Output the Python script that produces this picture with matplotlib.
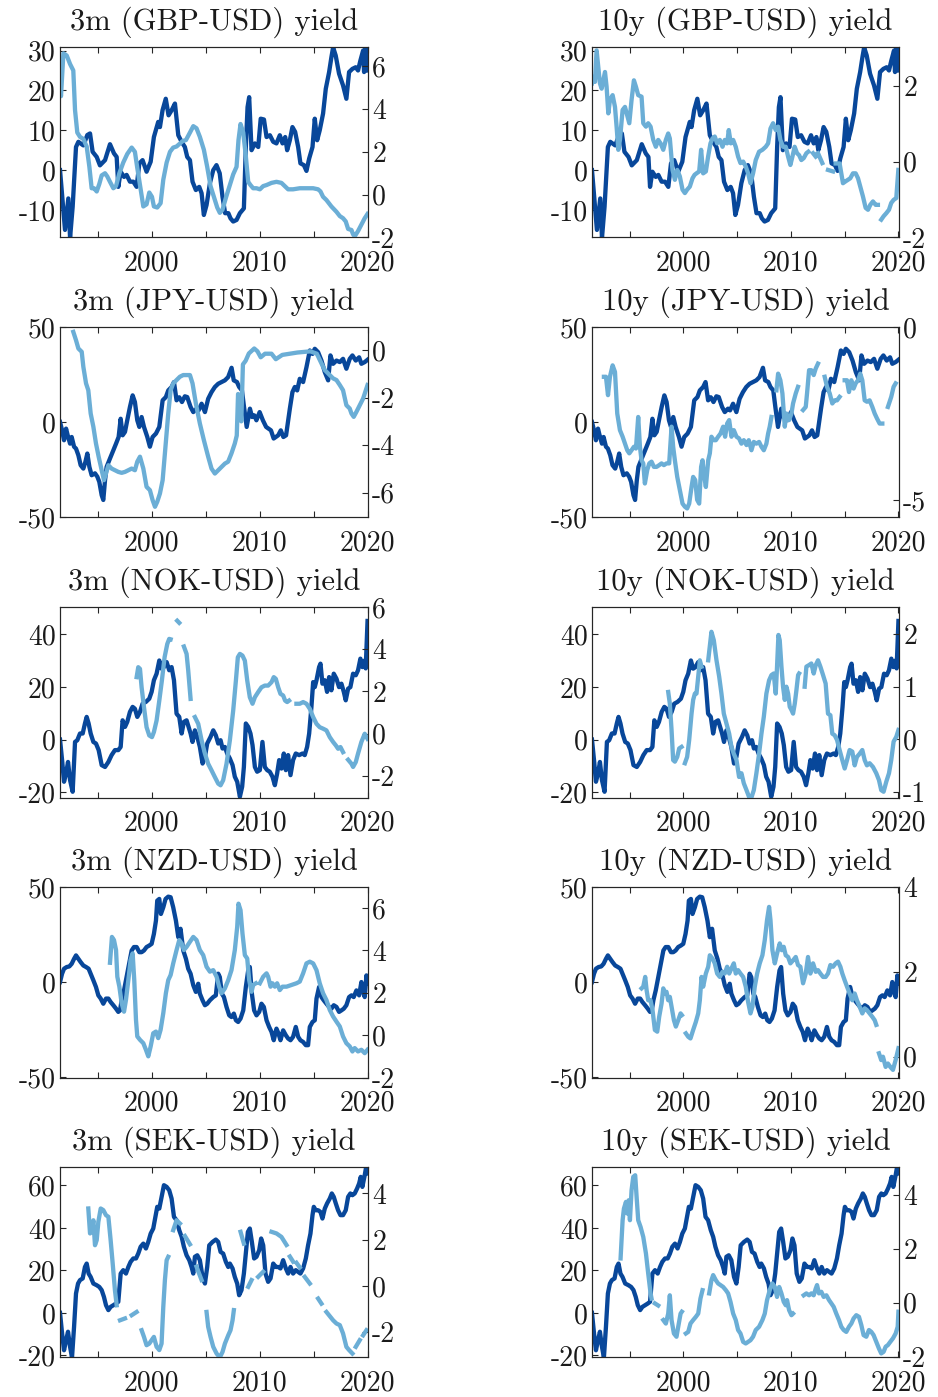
import numpy as np
import matplotlib
matplotlib.use('Agg')
import matplotlib.pyplot as plt

nan = np.nan
GAP = (nan, nan)

# ---------------- dark series (left axis), shared within each row ----------------
GBP_DARK = [(1991.5,0),(1991.96,-15),(1992.27,-7.1),(1992.43,-17),(1992.67,-9.2),(1992.98,5.8),(1993.2,7.1),(1993.66,6.2),
 (1994.03,8.8),(1994.28,9.2),(1994.52,4.6),(1994.9,3.3),(1995.2,1.2),(1995.67,2.5),(1996.13,6.5),(1996.5,4.2),(1996.75,3.3),
 (1996.9,-4.2),(1997.12,-0.4),(1997.43,-1.7),(1997.67,-1.2),(1997.98,-2.9),(1998.29,-2.9),(1998.6,-4.2),(1998.85,1.7),
 (1999.15,2.5),(1999.52,-0.4),(1999.9,2.1),(2000.2,8.3),(2000.6,12.1),(2000.76,10.8),(2001.0,15),(2001.3,17.9),(2001.56,13.75),
 (2001.84,15),(2002.15,16.7),(2002.46,8.75),(2002.77,7.1),(2003.07,5.8),(2003.29,3.3),(2003.54,2.5),(2003.78,-2.9),(2004.09,-5),
 (2004.4,-4.2),(2004.62,-5.8),(2004.83,-11.25),(2005.08,-8.75),(2005.39,-3.3),(2005.7,0),(2006.0,1.25),(2006.3,-0.8),
 (2006.56,-6.7),(2006.8,-10.8),(2007.1,-10.8),(2007.3,-12.1),(2007.55,-12.9),(2007.86,-12.5),(2008.17,-10.8),(2008.54,-9.6),
 (2008.72,5.8),(2008.88,15.8),(2009.03,18.3),(2009.25,5),(2009.56,6.7),(2009.87,5.8),(2010.1,12.9),(2010.4,12.7),(2010.64,8.3),
 (2010.95,8.75),(2011.26,7.1),(2011.56,6.7),(2011.87,8.75),(2012.12,6.7),(2012.37,8.3),(2012.55,5),(2012.8,7.5),(2013.04,10.8),
 (2013.29,9.6),(2013.57,5.8),(2013.78,1.7),(2014.1,1.25),(2014.34,-0.2),(2014.59,2.9),(2014.9,5.8),(2015.11,12.9),(2015.33,7.5),
 (2015.57,10),(2015.88,14.2),(2016.13,20.4),(2016.44,24.6),(2016.65,28.3),(2016.81,30.8),(2017.05,28.75),(2017.36,24.2),
 (2017.73,21.25),(2018.04,17.9),(2018.29,24.6),(2018.6,25.4),(2018.9,25.8),(2019.12,25),(2019.34,27.5),(2019.59,30),
 (2019.68,24.6),(2019.83,30.8),(2020.0,25)]

JPY_DARK = [(1991.5,0),(1991.69,-4.4),(1991.87,-9.6),(1992.06,-3.5),(1992.21,-7),(1992.43,-11.4),(1992.58,-7.9),(1992.8,-13),
 (1992.98,-14),(1993.2,-17.5),(1993.41,-22.7),(1993.66,-24.5),(1993.85,-21),(1994.03,-16.6),(1994.22,-23.6),(1994.43,-28),
 (1994.74,-27),(1994.96,-28.8),(1995.14,-31.5),(1995.36,-38.5),(1995.51,-41),(1995.67,-30.6),(1995.82,-23.6),(1996.13,-19.2),
 (1996.44,-14.9),(1996.69,-11.4),(1996.93,-7.9),(1997.12,1.7),(1997.3,-7),(1997.52,-5.2),(1997.73,0.9),(1997.98,7.9),
 (1998.23,14),(1998.44,10.5),(1998.66,0.9),(1998.85,-2.6),(1999.06,2.6),(1999.28,-2.6),(1999.59,-7.9),(1999.83,-13),
 (2000.08,-7.9),(2000.39,-6.1),(2000.7,-2.6),(2001.01,11.4),(2001.31,13.1),(2001.53,16.6),(2001.84,18.4),(2002.06,21),
 (2002.3,11.4),(2002.55,13),(2002.8,10.5),(2003.07,13.5),(2003.29,13.1),(2003.6,7.9),(2003.85,5.2),(2004.15,7),(2004.34,6.1),
 (2004.62,9.6),(2004.93,5.2),(2005.23,12.2),(2005.54,15.7),(2005.85,18.4),(2006.16,20.1),(2006.47,21),(2006.78,21.9),
 (2007.08,23.6),(2007.4,28.5),(2007.6,21.9),(2007.9,21),(2008.1,18.4),(2008.36,16.6),(2008.55,8),(2008.8,-2.6),(2009.1,7),
 (2009.3,2.6),(2009.5,3.5),(2009.7,0.9),(2010.0,5.2),(2010.3,0.9),(2010.6,-2.6),(2011.05,-4.4),(2011.3,-8.7),(2011.5,-7.9),
 (2011.72,-7),(2011.96,-4.4),(2012.2,-7.9),(2012.45,-7),(2012.8,7),(2013.04,15.7),(2013.26,18.4),(2013.48,16.6),(2013.72,22.7),
 (2014.03,21),(2014.34,28.8),(2014.65,37.6),(2014.9,35.8),(2015.11,38.5),(2015.42,36.7),(2015.73,32.3),(2016.04,26.2),
 (2016.35,21.9),(2016.56,35),(2016.81,30.6),(2017.12,32.3),(2017.43,31.5),(2017.73,33.2),(2018.04,28),(2018.35,33.2),
 (2018.6,35),(2018.91,32.3),(2019.22,34),(2019.43,30.6),(2019.74,31.5),(2020.0,32.7)]

NOK_DARK = [(1991.5,0),(1991.69,-7.8),(1991.87,-16),(1992.06,-12.9),(1992.24,-8.5),(1992.43,-15.4),(1992.67,-19.8),(1992.89,-0.9),
 (1993.1,-0.25),(1993.35,2.3),(1993.6,2.3),(1993.81,6.1),(1993.97,8.6),(1994.15,6.1),(1994.34,2.3),(1994.59,-0.9),(1994.83,-1.5),
 (1995.08,-4),(1995.36,-9.7),(1995.67,-10.4),(1995.98,-8.5),(1996.28,-5.9),(1996.59,-4),(1996.9,-4),(1997.12,-2.8),(1997.3,7.3),
 (1997.52,4.8),(1997.73,6.7),(1997.98,10.5),(1998.23,12.4),(1998.44,11.7),(1998.66,8.6),(1998.91,10.5),(1999.15,13.6),
 (1999.46,14.3),(1999.77,15.5),(1999.99,18.1),(2000.2,22.5),(2000.45,25),(2000.7,30),(2000.91,26.9),(2001.13,27.5),(2001.38,29.4),
 (2001.62,26.3),(2001.84,27.5),(2002.06,22.5),(2002.3,9.8),(2002.55,8.6),(2002.77,2.3),(2002.98,6.7),(2003.23,7.3),(2003.41,4.8),
 (2003.6,2.3),(2003.78,-0.9),(2004.0,3.5),(2004.22,1),(2004.46,-2.8),(2004.71,-9.1),(2004.93,-6.6),(2005.14,-1.5),(2005.45,1),
 (2005.7,3.5),(2005.94,1.6),(2006.16,-1.5),(2006.38,-0.25),(2006.56,-3.4),(2006.78,-2.8),(2006.99,-5.3),(2007.24,-7.2),
 (2007.49,-9.7),(2007.7,-14.1),(2007.92,-16),(2008.17,-21.7),(2008.38,-17.9),(2008.54,-10.4),(2008.72,6.1),(2008.94,4.8),
 (2009.15,2.3),(2009.34,-2.1),(2009.56,-10.4),(2009.77,-12.2),(2010.02,-11.6),(2010.26,-0.9),(2010.48,-10.4),(2010.7,-11.6),
 (2010.94,-12.2),(2011.19,-14.1),(2011.41,-17.3),(2011.62,-12.9),(2011.81,-7.8),(2012.02,-11),(2012.24,-5.3),(2012.43,-11.6),
 (2012.64,-5.9),(2012.86,-13.5),(2013.1,-7.8),(2013.35,-5.3),(2013.66,-5.9),(2013.97,-5.3),(2014.18,-5.9),(2014.4,-2.8),
 (2014.59,2.3),(2014.8,12.4),(2014.96,21.8),(2015.11,19.9),(2015.27,22.5),(2015.51,27.5),(2015.64,28.8),(2015.82,21.2),
 (2016.04,22.5),(2016.25,18.1),(2016.44,23.7),(2016.65,18.7),(2016.87,25),(2017.12,23.1),(2017.36,19.9),(2017.58,21.2),
 (2017.8,18.1),(2017.98,14.9),(2018.2,19.3),(2018.41,19.9),(2018.66,25),(2018.91,24.4),(2019.12,26.3),(2019.34,30.7),
 (2019.52,27.5),(2019.74,30),(2019.83,27),(2020.0,45)]

NZD_DARK = [(1991.5,0),(1991.69,4.4),(1991.87,7),(1992.12,7.9),(1992.36,8.2),(1992.58,9.6),(1992.8,12.2),(1992.98,14),
 (1993.2,12.2),(1993.41,10.5),(1993.66,8.7),(1993.91,7.9),(1994.15,7),(1994.34,4.4),(1994.59,0.9),(1994.83,-2.6),(1995.05,-7),
 (1995.27,-8.7),(1995.51,-11.4),(1995.76,-8.7),(1995.98,-8.7),(1996.19,-10.5),(1996.44,-12.2),(1996.69,-14),(1996.9,-15.7),
 (1997.06,-14.9),(1997.21,-9.6),(1997.43,-4.4),(1997.67,2.6),(1997.92,9.6),(1998.14,16.6),(1998.35,18.4),(1998.6,18.4),
 (1998.85,15.7),(1999.06,15.7),(1999.28,16.6),(1999.52,18.4),(1999.77,19.2),(1999.99,20.1),(2000.2,25.3),(2000.39,32.3),
 (2000.51,42.8),(2000.7,43.7),(2000.85,35.8),(2001.07,39.3),(2001.28,43.7),(2001.53,44.9),(2001.75,44.6),(2001.99,39.3),
 (2002.24,32.3),(2002.46,23.6),(2002.67,28),(2002.92,16.6),(2003.17,12.2),(2003.38,7),(2003.6,4.4),(2003.85,-1.7),(2004.09,-5.2),
 (2004.31,-0.9),(2004.46,-6.1),(2004.71,-9.6),(2004.93,-12.2),(2005.14,-11.4),(2005.39,-9.6),(2005.7,-7.9),(2005.94,-7),
 (2006.16,4.4),(2006.31,2.6),(2006.5,-6.1),(2006.69,-7.9),(2006.93,-13.1),(2007.18,-17.5),(2007.39,-18.4),(2007.61,-16.6),
 (2007.8,-20.1),(2008.01,-21),(2008.23,-19.2),(2008.48,-14.9),(2008.72,-2.6),(2008.94,6.1),(2009.09,7.9),(2009.28,-6.1),
 (2009.49,-14.9),(2009.71,-17.5),(2009.96,-15.7),(2010.17,-11.4),(2010.39,-13.1),(2010.64,-20.1),(2010.88,-23.6),(2011.1,-26.2),
 (2011.31,-30.6),(2011.56,-24.5),(2011.75,-27.1),(2011.93,-30.6),(2012.18,-25.4),(2012.43,-28),(2012.64,-29.7),(2012.86,-30.6),
 (2013.1,-28.8),(2013.35,-23.6),(2013.57,-28.8),(2013.78,-30.6),(2014.03,-31.5),(2014.28,-33.2),(2014.49,-33.2),(2014.65,-23.6),
 (2014.9,-21),(2015.11,-20.1),(2015.27,-8.7),(2015.51,-2.6),(2015.73,-7.9),(2015.94,-9.6),(2016.19,-11.4),(2016.44,-13.1),
 (2016.65,-14),(2016.87,-12.2),(2017.12,-13.1),(2017.36,-15.7),(2017.58,-14.9),(2017.8,-14),(2018.04,-12.2),(2018.29,-7.9),
 (2018.51,-7),(2018.72,-7.9),(2018.97,-4.4),(2019.22,-7),(2019.43,0),(2019.59,-5.2),(2019.74,-7.9),(2019.9,3.5),(2020.0,-0.9)]

SEK_DARK = [(1991.5,0),(1991.69,-9.7),(1991.87,-17.6),(1992.06,-12.9),(1992.24,-8.9),(1992.43,-16),(1992.61,-21),(1992.8,-6.6),
 (1992.98,9.1),(1993.17,13.8),(1993.35,15.4),(1993.6,16.2),(1993.81,21.6),(1993.97,23.2),(1994.15,18.5),(1994.34,16.9),
 (1994.59,13.8),(1994.9,13),(1995.14,12.2),(1995.36,10.7),(1995.57,7.5),(1995.76,3.6),(1995.98,1.3),(1996.19,2.8),(1996.44,3.6),
 (1996.69,4.4),(1996.9,5.2),(1997.12,18.5),(1997.36,20.1),(1997.61,18.5),(1997.83,21.6),(1998.04,24),(1998.29,25.6),
 (1998.54,25.6),(1998.75,27.9),(1998.97,31.1),(1999.22,32.6),(1999.46,30.3),(1999.68,33.4),(1999.9,37.3),(2000.14,39.7),
 (2000.39,46.7),(2000.51,49.9),(2000.7,49.1),(2000.91,54.6),(2001.13,60.1),(2001.38,59.3),(2001.62,57.7),(2001.84,53.8),
 (2002.06,45.2),(2002.3,43.6),(2002.55,38.9),(2002.77,35.8),(2002.98,31.1),(2003.23,27.1),(2003.48,24.8),(2003.69,21.6),
 (2003.85,18.5),(2004.0,26.4),(2004.22,27.1),(2004.46,24.8),(2004.71,16.9),(2004.93,13.8),(2005.14,21.6),(2005.33,31.8),
 (2005.64,33.4),(2005.94,34.5),(2006.16,33.4),(2006.38,28.7),(2006.62,27.9),(2006.87,24),(2007.09,21.6),(2007.24,23.2),
 (2007.49,20.9),(2007.7,16.9),(2007.92,13.8),(2008.1,8.3),(2008.32,10.7),(2008.54,18.5),(2008.72,27.9),(2008.91,38.1),
 (2009.09,39.7),(2009.28,33.4),(2009.49,25.6),(2009.71,26.4),(2009.96,29.5),(2010.14,35),(2010.33,31.8),(2010.54,18.5),
 (2010.79,14.6),(2011.01,16.2),(2011.26,23.2),(2011.5,21.6),(2011.72,21.6),(2011.93,20.9),(2012.18,24.8),(2012.43,20.9),
 (2012.64,18.5),(2012.86,21.6),(2013.1,18.5),(2013.35,20.1),(2013.57,19.3),(2013.78,18.5),(2014.03,20.9),(2014.28,25.6),
 (2014.49,31.8),(2014.71,37.3),(2014.9,46),(2015.02,49.9),(2015.2,48.3),(2015.42,48.3),(2015.64,47.5),(2015.82,44.4),
 (2016.04,49.1),(2016.25,51.5),(2016.5,53.8),(2016.69,56.2),(2016.87,54.6),(2017.06,51.5),(2017.27,48.3),(2017.49,46),
 (2017.73,46),(2017.98,48.3),(2018.2,54.6),(2018.41,56.2),(2018.6,55.4),(2018.81,56.2),(2019.03,58.5),(2019.22,60.9),
 (2019.37,64),(2019.52,59.3),(2019.74,64.8),(2019.9,69.5),(2020.0,65.6)]

# ---------------- light series (right axis) ----------------
GBP_3M = [(1991.5,4.9),(1991.59,4.6),(1991.81,6.6),(1992.12,6.5),(1992.43,6.1),(1992.73,5.8),(1992.89,3.95),(1993.1,2.9),
 (1993.35,2.7),(1993.66,2.6),(1993.97,2.25),(1994.22,1.3),(1994.43,0.3),(1994.65,0.3),(1994.9,0.15),(1995.14,0.5),(1995.36,0.9),
 (1995.67,1.0),(1995.88,0.85),(1996.13,0.6),(1996.44,0.3),(1996.69,0.4),(1997.0,1.0),(1997.36,1.5),(1997.73,1.9),(1998.14,2.2),
 (1998.44,2.0),(1998.66,1.25),(1998.91,0.45),(1999.22,-0.55),(1999.52,-0.45),(1999.77,0.1),(2000.02,-0.1),(2000.2,-0.55),
 (2000.51,-0.6),(2000.82,-0.4),(2001.07,0.7),(2001.38,1.5),(2001.69,2.0),(2001.99,2.2),(2002.3,2.25),(2002.86,2.5),
 (2003.17,2.55),(2003.54,2.9),(2003.85,3.2),(2004.15,3.1),(2004.46,2.7),(2004.83,2.1),(2005.14,1.3),(2005.45,0.4),
 (2005.76,-0.1),(2006.07,-0.6),(2006.31,-0.85),(2006.56,-0.7),(2006.87,-0.15),(2007.24,0.45),(2007.55,0.95),(2007.86,1.3),
 (2008.04,2.55),(2008.23,3.3),(2008.48,2.9),(2008.72,1.8),(2008.94,0.6),(2009.15,0.45),(2009.4,0.3),(2009.71,0.3),
 (2010.02,0.25),(2010.33,0.4),(2010.64,0.45),(2011.1,0.55),(2011.56,0.6),(2012.02,0.55),(2012.33,0.4),(2012.64,0.25),
 (2013.1,0.25),(2013.72,0.3),(2014.34,0.3),(2014.96,0.3),(2015.42,0.25),(2015.64,0.15),(2015.88,-0.1),(2016.19,-0.25),
 (2016.65,-0.55),(2017.12,-0.8),(2017.43,-1.0),(2017.73,-1.1),(2017.98,-1.25),(2018.2,-1.6),(2018.51,-1.65),(2018.66,-1.85),
 (2018.81,-1.95),(2019.12,-1.7),(2019.43,-1.4),(2019.74,-1.1),(2020.0,-0.9)]

GBP_10Y = [(1991.5,2.06),(1991.62,2.23),(1991.78,2.1),(1991.93,2.93),(1992.09,2.49),(1992.24,2.06),(1992.4,1.92),(1992.55,2.14),
 (1992.71,2.36),(1992.86,1.97),(1993.02,1.27),(1993.17,1.62),(1993.42,1.75),(1993.64,1.44),(1993.79,0.92),(1993.95,0.31),
 (1994.1,0.57),(1994.35,1.36),(1994.57,1.44),(1994.78,1.22),(1994.97,1.01),(1995.18,1.62),(1995.4,2.14),(1995.59,1.97),
 (1995.8,1.75),(1996.11,1.71),(1996.27,1.01),(1996.52,0.92),(1996.73,1.01),(1996.95,0.92),(1997.2,0.57),(1997.44,0.39),
 (1997.66,0.57),(1997.88,0.48),(1998.13,0.31),(1998.37,0.57),(1998.59,0.74),(1998.74,0.61),(1998.99,-0.22),(1999.21,-0.48),
 (1999.43,-0.22),(1999.67,-0.39),(1999.92,-0.74),(2000.14,-0.83),(2000.35,-0.74),(2000.6,-0.66),(2000.85,-0.44),(2001.04,-0.35),
 (2001.22,-0.31),(2001.47,-0.26),(2001.65,0.31),(2001.84,-0.31),(2002.09,-0.26),(2002.3,0.13),(2002.52,0.48),(2002.71,0.61),
 (2002.92,0.66),(2003.14,0.48),(2003.39,0.57),(2003.64,0.39),(2003.85,0.57),(2004.07,0.48),(2004.22,0.83),(2004.41,0.48),
 (2004.63,0.57),(2004.87,0.39),(2005.09,0.13),(2005.31,-0.04),(2005.56,0),(2005.8,-0.13),(2006.02,-0.31),(2006.24,-0.57),
 (2006.48,-0.31),(2006.73,0.04),(2007.04,0.26),(2007.35,0.31),(2007.66,0.39),(2007.88,0.48),(2008.1,0.87),(2008.34,1.01),
 (2008.59,0.83),(2008.81,0.92),(2009.02,0.57),(2009.27,0.39),(2009.52,0.39),(2009.74,0.13),(2009.95,-0.09),(2010.14,0.13),
 (2010.35,0.39),(2010.57,0.22),(2010.76,0.17),(2010.97,0.04),(2011.19,0.09),(2011.44,0.22),(2011.62,0.26),GAP,
 (2012.06,0.22),(2012.31,0.13),GAP,(2012.52,0.22),(2012.92,-0.04),GAP,(2013.45,-0.22),(2013.92,-0.26),GAP,
 (2014.16,-0.05),(2014.53,-0.05),(2014.69,-0.31),(2014.84,-0.57),(2015.09,-0.52),(2015.31,-0.48),(2015.52,-0.44),
 (2015.77,-0.31),(2016.02,-0.31),(2016.24,-0.44),(2016.45,-0.66),(2016.7,-0.92),(2016.95,-1.22),(2017.17,-1.27),
 (2017.38,-1.14),(2017.63,-1.05),(2017.88,-1.14),(2018.09,-1.14),GAP,(2018.4,-1.53),(2018.62,-1.44),(2018.87,-1.36),
 (2019.12,-1.27),(2019.33,-1.09),(2019.55,-1.01),(2019.8,-0.96),(2019.99,-0.22)]

JPY_3M = [(1992.73,0.77),(1992.98,0.42),(1993.2,0.07),(1993.51,-0.07),(1993.66,-0.7),(1993.91,-1.4),(1994.12,-1.69),
 (1994.34,-2.67),(1994.59,-3.23),(1994.83,-3.93),(1995.08,-4.49),(1995.36,-5.06),(1995.57,-5.48),(1995.76,-5.2),(1995.98,-4.85),
 (1996.28,-4.99),(1996.59,-5.06),(1996.9,-5.13),(1997.21,-5.17),(1997.52,-5.13),(1997.83,-5.06),(1998.14,-4.99),(1998.44,-5.06),
 (1998.66,-4.7),(1998.91,-4.49),(1999.22,-4.99),(1999.52,-5.76),(1999.83,-5.9),(2000.08,-6.32),(2000.3,-6.6),(2000.51,-6.39),
 (2000.76,-6.04),(2001.01,-5.48),(2001.22,-4.35),(2001.53,-2.67),(2001.75,-1.69),(2001.99,-1.4),(2002.3,-1.26),(2002.61,-1.12),
 (2002.92,-1.05),(2003.23,-1.05),(2003.54,-1.05),(2003.78,-1.4),(2004.09,-2.25),(2004.46,-3.09),(2004.83,-3.79),(2005.23,-4.49),
 (2005.54,-4.99),(2005.85,-5.2),(2006.16,-5.06),(2006.47,-4.92),(2006.78,-4.78),(2007.08,-4.7),(2007.39,-4.35),(2007.7,-3.93),
 (2007.88,-3.6),(2008.0,-1.85),(2008.15,-1.9),(2008.3,-3.0),(2008.45,-0.6),(2008.7,-0.45),(2009.0,-0.14),(2009.5,0.07),
 (2009.8,-0.05),(2010.1,-0.3),(2010.5,-0.15),(2011.1,-0.15),(2011.5,-0.38),(2012.1,-0.2),(2013.5,-0.1),(2014.7,-0.05),
 (2015.3,-0.15),(2015.73,-0.56),(2016.04,-0.84),(2016.5,-1.05),(2016.81,-1.19),(2017.12,-1.26),(2017.43,-1.47),(2017.73,-1.69),
 (2018.04,-2.32),(2018.35,-2.46),(2018.51,-2.67),(2018.72,-2.81),(2018.97,-2.6),(2019.28,-2.32),(2019.59,-2.04),(2020.0,-1.47)]

JPY_10Y = [(1992.61,-1.44),(1992.8,-1.44),(1992.99,-1.97),(1993.17,-1.44),(1993.42,-1.11),(1993.64,-1.3),(1993.85,-2.5),
 (1994.1,-2.98),(1994.35,-3.17),(1994.57,-3.37),(1994.78,-3.56),(1994.97,-3.65),(1995.18,-3.56),(1995.4,-3.46),(1995.59,-3.51),
 (1995.8,-2.6),(1995.96,-3.46),(1996.11,-3.85),(1996.27,-3.94),(1996.42,-4.52),(1996.64,-4.13),(1996.83,-3.94),(1997.04,-3.89),
 (1997.26,-4.04),(1997.51,-4.04),(1997.75,-3.99),(1997.97,-3.94),(1998.19,-3.99),(1998.43,-3.94),(1998.68,-3.94),(1998.9,-2.88),
 (1999.05,-3.46),(1999.21,-3.85),(1999.43,-4.33),(1999.67,-4.71),(1999.92,-5.1),(2000.14,-5.19),(2000.35,-5.24),(2000.54,-5.1),
 (2000.76,-4.62),(2000.91,-4.33),(2001.1,-4.42),(2001.28,-4.99),(2001.47,-5.1),(2001.65,-4.04),(2001.78,-3.85),(2001.9,-4.23),
 (2002.09,-4.62),(2002.31,-3.85),(2002.46,-3.65),(2002.61,-3.17),(2002.83,-3.27),(2003.02,-3.27),(2003.23,-3.17),(2003.45,-3.08),
 (2003.7,-2.88),(2003.88,-3.17),(2004.07,-2.79),(2004.26,-2.69),(2004.47,-3.17),(2004.69,-2.98),(2004.94,-3.17),(2005.18,-3.22),
 (2005.4,-3.37),(2005.62,-3.27),(2005.87,-3.41),(2006.08,-3.27),(2006.33,-3.56),(2006.55,-3.32),(2006.79,-3.37),(2007.04,-3.32),
 (2007.26,-3.46),(2007.48,-3.56),(2007.72,-3.37),(2007.88,-3.08),(2008.03,-2.88),(2008.19,-2.6),GAP,(2008.65,-1.83),
 (2008.81,-1.35),(2009.02,-1.54),(2009.21,-1.92),(2009.43,-2.88),(2009.58,-2.5),(2009.83,-2.69),(2010.05,-2.5),(2010.2,-2.21),
 (2010.45,-1.92),(2010.66,-1.73),GAP,(2011.13,-2.4),(2011.38,-2.31),(2011.5,-1.92),(2011.69,-1.25),(2011.9,-1.25),
 (2012.12,-1.39),(2012.31,-1.2),(2012.52,-1.06),GAP,(2013.14,-1.44),(2013.36,-1.73),(2013.61,-1.92),(2013.85,-2.21),
 (2014.07,-2.12),(2014.29,-2.12),(2014.53,-2.02),GAP,(2015.0,-1.54),(2015.21,-1.54),(2015.4,-1.88),(2015.62,-1.54),
 (2015.83,-1.78),(2016.02,-1.63),(2016.24,-1.54),(2016.45,-1.35),(2016.64,-1.54),(2016.86,-2.12),(2017.07,-2.16),(2017.32,-2.12),
 (2017.57,-2.31),(2017.79,-2.5),(2018.0,-2.64),(2018.25,-2.79),(2018.5,-2.79),GAP,(2019.02,-2.31),(2019.33,-2.02),
 (2019.55,-1.73),(2019.74,-1.63)]

NOK_3M = [(1998.6,2.68),(1998.75,3.15),(1998.91,3.07),(1999.06,2.2),(1999.28,1.26),(1999.52,0.31),(1999.77,-0.08),(2000.02,-0.16),
 (2000.2,0.08),(2000.45,0.63),(2000.7,1.57),(2000.94,2.52),(2001.19,3.62),(2001.44,4.25),(2001.62,4.49),(2001.75,4.47),GAP,
 (2002.36,5.35),(2002.55,5.25),GAP,(2002.98,4.13),(2003.23,3.78),(2003.38,3.0),(2003.6,1.65),GAP,(2004.0,0.79),(2004.31,0.47),
 (2004.62,-0.31),(2004.93,-0.94),(2005.23,-1.42),(2005.54,-1.73),(2005.85,-2.05),(2006.16,-2.36),(2006.38,-2.44),(2006.62,-2.2),
 (2006.93,-1.42),(2007.24,-0.31),(2007.55,1.1),(2007.8,2.52),(2007.98,3.62),(2008.17,3.78),(2008.41,3.7),(2008.63,3.46),
 (2008.85,2.52),(2009.09,1.73),(2009.34,1.42),(2009.56,1.73),(2009.86,1.97),(2010.17,2.2),(2010.48,2.28),(2010.79,2.28),
 (2011.1,2.44),(2011.31,2.68),(2011.5,2.6),(2011.72,2.2),(2011.93,1.89),(2012.18,1.81),(2012.36,1.57),(2012.55,1.5),
 (2012.73,1.57),GAP,(2013.41,1.42),(2013.72,1.42),(2014.03,1.5),(2014.34,1.42),(2014.65,1.18),(2014.96,0.79),(2015.27,0.47),
 (2015.57,0.31),(2015.88,0.24),(2016.19,0.16),(2016.5,-0.16),(2016.81,-0.39),(2017.06,-0.55),(2017.27,-0.71),(2017.49,-0.63),
 (2017.73,-0.87),GAP,(2018.2,-1.23),(2018.51,-1.42),(2018.66,-1.57),(2018.91,-1.34),(2019.12,-0.94),(2019.43,-0.39),
 (2019.74,0),(2020.0,-0.24)]

NOK_10Y = [(1998.59,0.9),(1998.74,0.68),(1998.9,0.18),(1999.05,-0.39),(1999.21,-0.42),(1999.43,-0.33),(1999.61,-0.17),
 (1999.83,-0.14),GAP,(2000.14,-0.45),(2000.35,-0.33),(2000.54,-0.01),(2000.76,0.49),(2000.91,0.75),(2001.07,0.87),(2001.22,0.87),
 (2001.38,1.19),(2001.53,1.5),(2001.69,1.38),GAP,(2002.31,1.5),(2002.61,2.04),(2002.83,1.88),(2003.08,1.5),(2003.33,1.19),
 (2003.54,0.87),(2003.76,0.49),(2004.01,0.3),(2004.26,0.11),(2004.47,-0.14),(2004.69,-0.27),(2004.94,-0.39),(2005.18,-0.71),
 (2005.4,-0.64),(2005.62,-0.83),(2005.87,-0.96),(2006.11,-1.09),(2006.33,-1.1),(2006.55,-0.96),(2006.79,-0.64),(2007.04,-0.27),
 (2007.26,0.11),(2007.48,0.43),(2007.72,0.87),(2007.97,1.12),(2008.19,1.22),(2008.4,1.25),(2008.59,0.87),(2008.71,1.38),
 (2008.84,1.98),(2008.96,1.88),(2009.12,1.38),(2009.27,1.0),(2009.43,0.75),(2009.58,1.0),(2009.74,0.87),(2009.89,0.62),
 (2010.05,0.56),(2010.2,0.49),(2010.36,0.68),(2010.51,0.93),(2010.67,1.22),(2010.76,1.25),GAP,(2011.28,1.0),(2011.44,1.38),
 (2011.69,1.41),(2011.9,1.44),(2012.12,1.25),(2012.31,1.41),(2012.52,1.5),(2012.74,1.38),(2012.99,1.22),(2013.23,1.06),
 (2013.45,0.49),(2013.67,0.46),(2013.85,0.11),(2014.07,0.08),(2014.29,-0.01),(2014.53,-0.2),(2014.78,-0.39),(2015.0,-0.55),
 (2015.22,-0.39),(2015.46,-0.2),(2015.71,-0.23),(2015.93,-0.49),(2016.14,-0.33),(2016.39,-0.27),(2016.64,-0.2),(2016.86,-0.39),
 (2017.07,-0.49),(2017.32,-0.45),(2017.63,-0.52),(2017.94,-0.64),(2018.19,-0.77),(2018.4,-0.96),(2018.62,-0.99),(2018.87,-0.8),
 (2019.12,-0.64),(2019.33,-0.39),(2019.55,-0.04),(2019.8,0.05),(2020.0,0.18)]

NZD_3M = [(1996.13,3.42),(1996.31,4.64),(1996.5,4.49),(1996.69,4.02),(1996.81,2.76),(1997.0,2.29),(1997.21,1.51),(1997.43,1.11),
 (1997.61,1.66),(1997.83,2.6),(1998.04,3.55),(1998.23,3.86),(1998.38,2.6),(1998.54,0.72),(1998.66,-0.06),(1998.91,-0.22),
 (1999.22,-0.38),(1999.46,-0.69),(1999.68,-1.0),(1999.9,-0.53),(2000.14,0.09),(2000.39,0.17),(2000.6,-0.14),(2000.82,0.25),
 (2001.07,1.04),(2001.31,1.98),(2001.53,2.6),(2001.75,2.84),(2001.99,3.39),(2002.3,4.02),(2002.55,4.49),(2002.77,4.33),
 (2002.98,4.02),(2003.23,4.17),(2003.54,4.41),(2003.85,4.64),(2004.15,4.49),(2004.46,4.02),(2004.77,3.78),(2005.08,3.23),
 (2005.39,3.0),(2005.7,3.07),(2006.01,2.76),(2006.25,2.29),(2006.47,1.98),(2006.78,2.21),(2007.09,2.6),(2007.39,3.07),
 (2007.7,4.02),(2007.92,5.11),(2008.04,6.21),(2008.23,5.9),(2008.41,4.8),(2008.63,3.78),(2008.85,3.62),(2009.03,2.6),
 (2009.25,2.05),(2009.4,2.37),(2009.65,2.45),GAP,(2010.02,2.45),(2010.33,2.76),(2010.64,2.92),(2010.79,2.76),(2011.01,2.29),
 (2011.19,2.45),(2011.41,2.29),(2011.62,2.45),(2011.87,2.13),(2012.12,2.29),(2012.49,2.29),(2012.95,2.37),(2013.41,2.45),
 (2013.72,2.53),(2014.03,2.92),(2014.34,3.39),(2014.65,3.47),(2014.96,3.39),(2015.27,3.07),(2015.57,2.45),(2015.88,1.98),
 (2016.19,1.66),(2016.5,1.19),(2016.81,0.88),(2017.12,0.64),(2017.43,0.41),(2017.73,-0.06),(2018.04,-0.38),(2018.35,-0.53),
 (2018.6,-0.77),(2018.81,-0.61),(2019.12,-0.77),(2019.43,-0.69),(2019.74,-0.85),(2020.0,-0.69)]

NZD_10Y = [(1996.11,1.61),(1996.27,1.65),(1996.45,1.88),(1996.58,1.57),(1996.73,1.33),(1996.95,1.33),(1997.13,1.1),(1997.35,0.63),
 (1997.57,0.59),(1997.75,0.94),(1997.97,1.25),(1998.13,1.61),(1998.28,1.49),(1998.43,1.53),(1998.59,1.33),(1998.74,1.41),
 (1998.9,1.18),(1999.12,0.86),(1999.3,0.71),(1999.52,0.86),(1999.74,1.02),(1999.86,0.98),GAP,(2000.23,0.55),(2000.45,0.47),
 (2000.66,0.43),(2000.91,0.63),(2001.16,0.82),(2001.38,1.02),(2001.53,1.33),(2001.69,1.88),(2001.84,1.65),(2002.09,1.96),
 (2002.31,2.12),(2002.46,2.39),(2002.71,2.31),(2002.92,2.2),(2003.14,1.96),(2003.39,1.88),(2003.64,2.0),(2003.85,1.96),
 (2004.07,2.12),(2004.26,1.96),(2004.47,2.08),(2004.69,2.2),(2004.87,1.96),(2005.09,2.04),(2005.31,1.96),(2005.56,1.88),
 (2005.8,1.65),(2006.02,1.29),(2006.24,1.02),(2006.42,1.18),(2006.64,1.65),(2006.86,1.96),(2007.1,2.2),(2007.35,2.39),
 (2007.57,2.75),(2007.78,3.22),(2007.97,3.53),(2008.1,3.22),(2008.28,2.51),(2008.5,2.2),(2008.71,2.43),(2008.96,2.67),
 (2009.15,2.51),(2009.33,2.59),(2009.52,2.39),(2009.74,2.35),(2009.95,2.2),(2010.2,2.27),(2010.45,2.35),(2010.66,2.16),
 (2010.88,2.12),(2011.13,1.73),(2011.38,1.96),(2011.59,2.35),(2011.81,1.96),(2012.06,2.2),(2012.31,2.0),(2012.52,2.04),
 (2012.74,1.96),(2012.99,1.88),(2013.23,1.88),(2013.45,1.96),(2013.67,2.16),(2013.92,2.12),(2014.16,2.2),(2014.38,2.24),
 (2014.6,2.12),(2014.78,1.96),(2015.0,1.8),(2015.22,1.65),(2015.46,1.49),(2015.71,1.33),(2015.93,1.49),(2016.14,1.33),
 (2016.39,1.18),(2016.64,1.02),(2016.86,1.14),(2017.07,1.1),(2017.32,1.02),(2017.57,0.94),(2017.79,0.86),(2017.94,0.75),GAP,
 (2018.19,0.08),(2018.4,-0.08),(2018.56,0),(2018.81,-0.24),(2019.02,-0.16),(2019.24,-0.24),(2019.49,-0.31),(2019.74,-0.08),
 (2020.0,0.2)]

SEK_3M = [(1994.12,3.35),(1994.28,2.27),(1994.43,2.34),(1994.59,2.84),(1994.74,1.76),(1994.9,1.98),(1995.05,2.77),(1995.27,3.35),
 (1995.51,3.28),(1995.76,3.06),(1995.98,2.99),(1996.19,1.98),(1996.38,0.97),(1996.59,-0.19),(1996.75,-0.84),GAP,
 (1997.06,-1.49),(1997.52,-1.41),GAP,(1998.14,-1.27),(1998.6,-1.13),GAP,(1999.06,-1.92),(1999.28,-2.21),(1999.52,-2.57),
 (1999.77,-2.5),(1999.99,-2.35),(2000.2,-2.21),(2000.45,-2.64),(2000.7,-2.78),(2000.91,-2.5),(2001.07,-0.91),(2001.22,0.25),
 (2001.38,1.11),(2001.53,1.26),GAP,(2001.99,2.41),(2002.3,2.84),(2002.61,2.7),GAP,(2003.07,2.16),(2003.54,1.8),GAP,
 (2004.15,0.83),(2004.62,0.25),GAP,(2005.08,-1.13),(2005.23,-1.77),(2005.45,-2.21),(2005.7,-2.64),(2006.01,-2.93),
 (2006.31,-3.1),(2006.56,-2.86),(2006.78,-2.5),(2007.09,-2.14),(2007.3,-1.92),(2007.49,-1.49),(2007.61,-1.05),GAP,
 (2008.23,2.34),(2008.54,1.83),GAP,(2008.94,-0.04),(2009.25,0.25),GAP,(2009.86,0.39),(2010.33,0.61),GAP,(2011.1,2.34),
 (2011.56,2.27),(2012.02,2.12),(2012.49,1.77),GAP,(2012.8,1.27),(2013.1,1.05),GAP,(2013.41,1.0),(2013.72,0.8),GAP,
 (2014.18,0.39),(2014.65,0.1),GAP,(2015.42,-0.55),(2015.73,-0.77),GAP,(2016.19,-1.13),(2016.81,-1.49),(2017.12,-1.63),
 (2017.43,-1.7),(2017.73,-2.06),(2018.04,-2.64),(2018.29,-2.78),(2018.6,-2.93),GAP,(2018.91,-2.64),(2019.28,-2.35),GAP,
 (2019.59,-2.14),(2019.9,-1.92)]

SEK_10Y = [(1994.16,1.65),(1994.35,3.07),(1994.47,3.5),(1994.66,3.75),(1994.78,3.32),(1994.91,3.81),(1995.03,3.07),(1995.18,4.18),
 (1995.34,4.68),(1995.52,4.74),(1995.65,3.94),(1995.8,3.07),(1996.02,2.82),(1996.27,2.45),(1996.52,1.83),(1996.73,1.09),
 (1996.95,0.35),(1997.04,0.16),GAP,(1997.35,-0.02),(1997.66,-0.1),GAP,(1998.13,-0.64),(1998.37,-0.77),(1998.59,-0.4),
 (1998.74,0.28),(1998.9,-0.64),(1999.12,-1.14),(1999.36,-1.26),(1999.52,-0.89),(1999.74,-0.4),(1999.86,-0.33),GAP,
 (2000.23,-1.14),(2000.45,-1.08),(2000.66,-0.77),(2000.91,-0.64),(2001.16,-0.52),(2001.38,-0.4),(2001.59,0.16),(2001.78,0.47),
 GAP,(2002.4,0.35),(2002.61,0.84),(2002.77,1.03),(2003.02,0.84),(2003.23,0.72),(2003.45,0.66),(2003.7,0.59),(2003.95,0.47),
 (2004.16,0.35),(2004.38,0.04),(2004.63,-0.4),(2004.87,-0.64),(2005.09,-1.01),(2005.31,-1.14),(2005.56,-1.45),(2005.8,-1.51),
 (2006.02,-1.45),(2006.24,-1.39),(2006.48,-1.26),(2006.73,-1.01),(2007.04,-0.89),(2007.35,-0.64),(2007.57,-0.4),(2007.78,0.1),
 (2008.03,0.47),(2008.28,0.72),(2008.5,0.59),(2008.71,0.22),(2008.91,0.59),(2009.12,0.35),(2009.33,0.04),(2009.52,-0.09),
 (2009.64,0.1),(2009.83,-0.27),(2010.05,-0.46),(2010.2,-0.4),GAP,(2011.19,0.28),(2011.44,0.35),(2011.69,0.28),(2011.9,0.35),
 (2012.12,0.28),(2012.31,0.53),(2012.43,0.66),(2012.61,0.35),(2012.83,0.41),(2013.05,0.22),(2013.3,0.28),(2013.55,0.1),
 (2013.76,-0.02),(2013.98,-0.15),(2014.22,-0.4),(2014.47,-0.64),(2014.69,-0.89),(2014.91,-1.01),(2015.15,-1.08),(2015.4,-0.89),
 (2015.62,-0.77),(2015.83,-0.58),(2016.08,-0.46),(2016.33,-0.52),(2016.55,-0.83),(2016.76,-1.2),(2017.01,-1.26),(2017.26,-1.01),
 (2017.48,-1.08),(2017.69,-1.2),(2017.94,-1.45),(2018.19,-1.7),(2018.4,-1.88),(2018.62,-1.82),(2018.81,-1.63),(2019.02,-1.57),
 (2019.24,-1.45),(2019.49,-1.32),(2019.74,-1.14),(2019.93,-0.89),(2020.0,-0.33)]

CURRENCIES = ['GBP', 'JPY', 'NOK', 'NZD', 'SEK']
TENORS = ['3m', '10y']
X_TICKS = [1995, 2000, 2005, 2010, 2015, 2020]
X_TICKLABELS = ['', '2000', '', '2010', '', '2020']

LEFT_TICKS = {'GBP': [-10, 0, 10, 20, 30], 'JPY': [-50, 0, 50], 'NOK': [-20, 0, 20, 40],
              'NZD': [-50, 0, 50], 'SEK': [-20, 0, 20, 40, 60]}
RIGHT_TICKS = {('GBP', '3m'): [-2, 0, 2, 4, 6], ('GBP', '10y'): [-2, 0, 2],
               ('JPY', '3m'): [-6, -4, -2, 0], ('JPY', '10y'): [-5, 0],
               ('NOK', '3m'): [-2, 0, 2, 4, 6], ('NOK', '10y'): [-1, 0, 1, 2],
               ('NZD', '3m'): [-2, 0, 2, 4, 6], ('NZD', '10y'): [0, 2, 4],
               ('SEK', '3m'): [-2, 0, 2, 4], ('SEK', '10y'): [-2, 0, 2, 4]}

# axis ranges
LEFT_LIM = {'GBP': (-16.9, 30.9), 'JPY': (-50.2, 49.8), 'NOK': (-22.0, 50.3),
            'NZD': (-50.2, 49.8), 'SEK': (-21.0, 68.7)}
RIGHT_LIM = {('GBP', '3m'): (-1.98, 6.9), ('GBP', '10y'): (-1.99, 3.02),
             ('JPY', '3m'): (-7.05, 0.98), ('JPY', '10y'): (-5.5, 0.0),
             ('NOK', '3m'): (-3.02, 6.0), ('NOK', '10y'): (-1.1, 2.51),
             ('NZD', '3m'): (-1.98, 7.0), ('NZD', '10y'): (-0.49, 4.0),
             ('SEK', '3m'): (-3.1, 5.15), ('SEK', '10y'): (-2.03, 5.05)}

DARK_SERIES = {'GBP': GBP_DARK, 'JPY': JPY_DARK, 'NOK': NOK_DARK, 'NZD': NZD_DARK, 'SEK': SEK_DARK}
LIGHT_SERIES = {('GBP', '3m'): GBP_3M, ('GBP', '10y'): GBP_10Y, ('JPY', '3m'): JPY_3M, ('JPY', '10y'): JPY_10Y,
                ('NOK', '3m'): NOK_3M, ('NOK', '10y'): NOK_10Y, ('NZD', '3m'): NZD_3M, ('NZD', '10y'): NZD_10Y,
                ('SEK', '3m'): SEK_3M, ('SEK', '10y'): SEK_10Y}

plt.rcParams['font.family'] = ['cmr10', 'DejaVu Serif']
plt.rcParams['axes.unicode_minus'] = False
plt.rcParams['mathtext.fontset'] = 'cm'
plt.rcParams['axes.formatter.use_mathtext'] = True

DARK = '#08479a'
LIGHT = '#6baed6'
AXC = '#262626'
TXT = '#1a1a1a'
LW = 3.1
TICK_FS = 20
TITLE_FS = 22

fig = plt.figure(figsize=(9.38, 13.97), dpi=100)
col_left = [0.0640, 0.6311]
col_width = [0.3284, 0.3273]
row_bottom = [0.8300, 0.6296, 0.4291, 0.2287, 0.0283]
row_height = 0.1364

for i, cur in enumerate(CURRENCIES):
    for j, ten in enumerate(TENORS):
        ax = fig.add_axes([col_left[j], row_bottom[i], col_width[j], row_height])
        d = np.array(DARK_SERIES[cur], dtype=float)
        ax.plot(d[:, 0], d[:, 1], color=DARK, lw=LW, solid_joinstyle='round')
        ax.set_xlim(1991.5, 2020.05)
        ax.set_ylim(*LEFT_LIM[cur])
        ax.set_xticks(X_TICKS)
        ax.set_xticklabels(X_TICKLABELS)
        ax.set_yticks(LEFT_TICKS[cur])
        ax.set_yticklabels([str(v) for v in LEFT_TICKS[cur]])
        ax.tick_params(axis='both', direction='in', length=4, width=0.8, color=AXC,
                       labelsize=TICK_FS, labelcolor=TXT)
        ax.tick_params(axis='x', top=True, pad=9)
        ax.tick_params(axis='y', left=True, right=False, pad=3)
        for s in ax.spines.values():
            s.set_color(AXC)
            s.set_linewidth(0.8)

        ax2 = ax.twinx()
        l = np.array(LIGHT_SERIES[(cur, ten)], dtype=float)
        ax2.plot(l[:, 0], l[:, 1], color=LIGHT, lw=LW, solid_joinstyle='round')
        ax2.set_ylim(*RIGHT_LIM[(cur, ten)])
        rt = RIGHT_TICKS[(cur, ten)]
        ax2.set_yticks(rt)
        ax2.set_yticklabels([str(v) for v in rt])
        ax2.tick_params(axis='y', direction='in', length=4, width=0.8, color=AXC,
                        labelsize=TICK_FS, labelcolor=TXT, pad=3)
        for s in ax2.spines.values():
            s.set_color(AXC)
            s.set_linewidth(0.8)
        ax.set_title(f'{ten} ({cur}-USD) yield', fontsize=TITLE_FS, pad=12.5, color=TXT)

fig.savefig('out.png', dpi=100)
